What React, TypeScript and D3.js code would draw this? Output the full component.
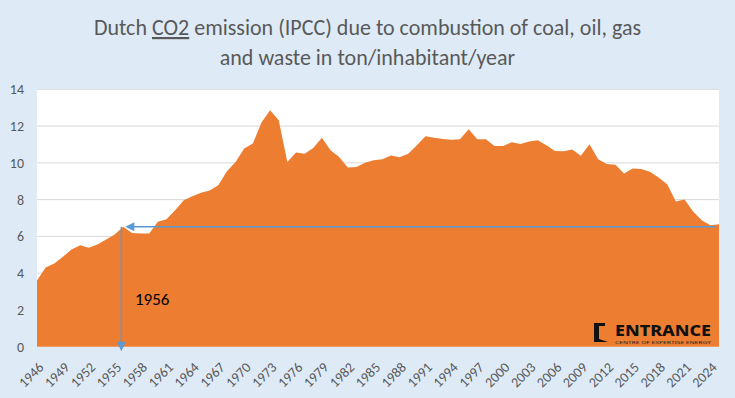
import React, { useEffect, useRef } from 'react';
import * as d3 from 'd3';

// categories: one entry per year
const years: number[] = d3.range(1946, 2026);

// CO2 emission, ton per inhabitant per year
const emission: number[] = [
  3.6, 4.31, 4.53, 4.89, 5.29, 5.52, 5.38, 5.56, 5.83, 6.1,
  6.52, 6.19, 6.16, 6.16, 6.79, 6.93, 7.42, 7.97, 8.18, 8.38,
  8.49, 8.78, 9.54, 10.05, 10.78, 11.05, 12.19, 12.86, 12.32, 10.05,
  10.56, 10.49, 10.81, 11.37, 10.68, 10.32, 9.74, 9.78, 10.01, 10.14,
  10.2, 10.4, 10.3, 10.5, 10.96, 11.45, 11.37, 11.3, 11.25, 11.28,
  11.83, 11.28, 11.28, 10.92, 10.92, 11.12, 11.03, 11.16, 11.23, 10.96,
  10.65, 10.63, 10.72, 10.38, 11.01, 10.2, 9.94, 9.89, 9.42, 9.69,
  9.67, 9.51, 9.2, 8.84, 7.9, 8.0, 7.35, 6.88, 6.61, 6.66,
];

const yTicks: number[] = [0, 2, 4, 6, 8, 10, 12, 14];
const xTickYears: number[] = years.filter((_, i) => i % 3 === 0);

const titleLines: string[] = ['Dutch CO2 emission (IPCC) due to combustion of coal, oil, gas', 'and waste in ton/inhabitant/year'];
const markedYear = 1956;

const W = 735;
const H = 398;
const FONT = 'Carlito, Calibri, Lato, "Open Sans", sans-serif';

export default function App() {
  const ref = useRef<SVGSVGElement>(null);

  useEffect(() => {
    if (!ref.current) return;
    const svg = d3.select(ref.current);
    svg.selectAll('*').remove();

    const plot = { left: 37, right: 719, top: 89.3, bottom: 346.7 };

    const x = d3.scaleLinear().domain([years[0], years[years.length - 1]]).range([plot.left, plot.right]);
    const y = d3.scaleLinear().domain([0, 14]).range([plot.bottom, plot.top]);

    // background
    svg.append('rect').attr('width', W).attr('height', H).attr('fill', '#DEEBF7');
    svg.append('rect')
      .attr('x', plot.left).attr('y', plot.top)
      .attr('width', plot.right - plot.left).attr('height', plot.bottom - plot.top)
      .attr('fill', '#ffffff');

    // title
    const title = svg.append('text')
      .attr('text-anchor', 'middle')
      .attr('font-family', FONT)
      .attr('font-size', 22)
      .attr('fill', '#595959');
    const l1 = title.append('tspan').attr('x', W / 2).attr('y', 35);
    l1.append('tspan').text('Dutch ');
    l1.append('tspan').attr('text-decoration', 'underline').text('CO2');
    l1.append('tspan').text(titleLines[0].slice(9));
    title.append('tspan').attr('x', W / 2).attr('y', 65).text(titleLines[1]);

    // gridlines
    svg.append('g')
      .selectAll('line')
      .data(yTicks.filter(t => t > 0))
      .join('line')
      .attr('x1', plot.left).attr('x2', plot.right)
      .attr('y1', d => y(d)).attr('y2', d => y(d))
      .attr('stroke', '#D9D9D9').attr('stroke-width', 1);

    // area
    const area = d3.area<number>()
      .x((_, i) => x(years[i]))
      .y0(y(0))
      .y1(d => y(d));
    svg.append('path').datum(emission).attr('d', area).attr('fill', '#ED7D31');

    // y axis labels
    svg.append('g')
      .selectAll('text')
      .data(yTicks)
      .join('text')
      .attr('x', 24).attr('y', d => y(d))
      .attr('dy', '0.35em')
      .attr('text-anchor', 'end')
      .attr('font-family', FONT).attr('font-size', 14)
      .attr('fill', '#595959')
      .text(d => d);

    // x axis labels, rotated
    svg.append('g')
      .selectAll('text')
      .data(xTickYears)
      .join('text')
      .attr('transform', d => `translate(${x(d) + 4},${plot.bottom + 18}) rotate(-45)`)
      .attr('text-anchor', 'end')
      .attr('dy', '0.35em')
      .attr('font-family', FONT).attr('font-size', 14)
      .attr('fill', '#595959')
      .text(d => d);

    // annotation for 1956
    const blue = '#5B9BD5';
    const mi = years.indexOf(markedYear);
    const mx = x(markedYear) - 2;
    const my = y(emission[mi]);
    const ann = svg.append('g');
    ann.append('line')
      .attr('x1', mx + 12).attr('x2', plot.right - 3)
      .attr('y1', my).attr('y2', my)
      .attr('stroke', blue).attr('stroke-width', 1.5);
    ann.append('path')
      .attr('d', `M${mx + 4},${my} L${mx + 13},${my - 4.5} L${mx + 13},${my + 4.5} Z`)
      .attr('fill', blue);
    ann.append('line')
      .attr('x1', mx).attr('x2', mx)
      .attr('y1', my).attr('y2', plot.bottom - 3)
      .attr('stroke', blue).attr('stroke-width', 1.5);
    ann.append('path')
      .attr('d', `M${mx},${plot.bottom + 4.5} L${mx - 4.5},${plot.bottom - 5} L${mx + 4.5},${plot.bottom - 5} Z`)
      .attr('fill', blue);
    ann.append('text')
      .attr('x', 135).attr('y', 305)
      .attr('font-family', FONT).attr('font-size', 17)
      .attr('fill', '#000000')
      .text(markedYear);

    // logo
    const logo = svg.append('g');
    logo.append('path')
      .attr('d', 'M594,323 L605,323 L605,326 L599,326 L599,339 L608,342 L594,342 Z')
      .attr('fill', '#111111');
    logo.append('text')
      .attr('x', 615).attr('y', 335.5)
      .attr('font-family', '"Noto Sans", "DejaVu Sans", sans-serif')
      .attr('font-weight', 800).attr('font-size', 15)
      .attr('textLength', 96).attr('lengthAdjust', 'spacingAndGlyphs')
      .attr('fill', '#111111')
      .text('ENTRANCE');
    logo.append('text')
      .attr('x', 615).attr('y', 344)
      .attr('font-family', '"Noto Sans", "DejaVu Sans", sans-serif')
      .attr('font-size', 4)
      .attr('textLength', 96).attr('lengthAdjust', 'spacingAndGlyphs')
      .attr('fill', '#222222')
      .text('CENTRE OF EXPERTISE ENERGY');
  }, []);

  return (
    <svg
      ref={ref}
      width={W}
      height={H}
      style={{ position: 'absolute', left: 0, top: 0, display: 'block' }}
    />
  );
}
